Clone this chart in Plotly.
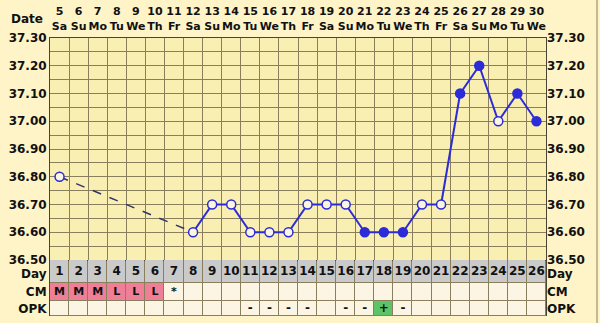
import plotly.graph_objects as go

# ---------------- data ----------------
cycle_days = list(range(1, 27))
dates = list(range(5, 31))
weekdays = ["Sa", "Su", "Mo", "Tu", "We", "Th", "Fr"]
date_labels = [f"{d}<br>{weekdays[i % 7]}" for i, d in enumerate(dates)]

temps = [36.80, None, None, None, None, None, None, 36.60, 36.70, 36.70,
         36.60, 36.60, 36.60, 36.70, 36.70, 36.70, 36.60, 36.60, 36.60, 36.70,
         36.70, 37.10, 37.20, 37.00, 37.10, 37.00]
filled = [False, False, False, False, False, False, False, False, False, False,
          False, False, False, False, False, False, True, True, True, False,
          False, True, True, False, True, True]

cm = ["M", "M", "M", "L", "L", "L", "*"] + [""] * 19
cm_color = [2, 2, 2, 2, 2, 2] + [0] * 20
opk = [""] * 10 + ["-", "-", "-", "-", "", "-", "-", "+", "-"] + [""] * 7
opk_color = [0] * 17 + [3] + [0] * 8

y_ticks = [36.50, 36.60, 36.70, 36.80, 36.90, 37.00, 37.10, 37.20, 37.30]
row_names = ["OPK", "CM", "Day"]

# ---------------- style ----------------
PAPER = "#FEF4C8"
PLOT = "#F9EFB2"
GRID = "#8A7F5C"
FRAME = "#4A4530"
BLUE = "#2B2BD8"
FONT = "DejaVu Sans"
TXT = "#111111"

fig = go.Figure()

# table rows (edges in table-axis units): OPK 0-15, CM 15-33, Day 33-56
row_edges = [0, 15, 33, 56]
row_centers = [7.5, 24, 44.5]
row_label_pos = [7.5, 24, 42]
col_edges = [c - 0.5 for c in cycle_days] + [cycle_days[-1] + 0.5]

z = [opk_color, cm_color, [1] * len(cycle_days)]
colorscale = [[0.0, "#FDF5E4"], [0.25, "#FDF5E4"],
              [0.25, "#CACACA"], [0.5, "#CACACA"],
              [0.5, "#EE7F96"], [0.75, "#EE7F96"],
              [0.75, "#5CC466"], [1.0, "#5CC466"]]
fig.add_trace(go.Heatmap(z=z, x=col_edges, y=row_edges, zmin=0, zmax=3,
                         colorscale=colorscale, showscale=False, xgap=1, ygap=1,
                         hoverinfo="skip", xaxis="x", yaxis="y2"))

# table texts
fig.add_trace(go.Scatter(x=cycle_days, y=[row_centers[2]] * len(cycle_days),
                         mode="text", text=[str(d) for d in cycle_days],
                         textfont=dict(family=FONT, size=12, color=TXT, weight="bold"),
                         xaxis="x", yaxis="y2", hoverinfo="skip", showlegend=False))
fig.add_trace(go.Scatter(x=cycle_days, y=[row_centers[1]] * len(cycle_days),
                         mode="text", text=cm,
                         textfont=dict(family=FONT, size=11, color=TXT, weight="bold"),
                         xaxis="x", yaxis="y2", hoverinfo="skip", showlegend=False))
fig.add_trace(go.Scatter(x=cycle_days, y=[row_centers[0]] * len(cycle_days),
                         mode="text", text=opk,
                         textfont=dict(family=FONT, size=12, color=TXT, weight="bold"),
                         xaxis="x", yaxis="y2", hoverinfo="skip", showlegend=False))

# dashed segment across missing days
valid = [i for i, t in enumerate(temps) if t is not None]
dx, dy = [], []
for a, b in zip(valid[:-1], valid[1:]):
    if b - a > 1:
        dx += [cycle_days[a], cycle_days[b], None]
        dy += [temps[a], temps[b], None]
fig.add_trace(go.Scatter(x=dx, y=dy, mode="lines",
                         line=dict(color="#33336E", width=1.5, dash="dash"),
                         hoverinfo="skip", showlegend=False))

# solid line segments (consecutive days only)
sx, sy = [], []
for a, b in zip(valid[:-1], valid[1:]):
    if b - a == 1:
        sx += [cycle_days[a], cycle_days[b], None]
        sy += [temps[a], temps[b], None]
fig.add_trace(go.Scatter(x=sx, y=sy, mode="lines",
                         line=dict(color=BLUE, width=2),
                         hoverinfo="skip", showlegend=False))

# markers
fig.add_trace(go.Scatter(
    x=[cycle_days[i] for i in valid], y=[temps[i] for i in valid], mode="markers",
    marker=dict(size=9, symbol="circle",
                color=[BLUE if filled[i] else "#FBF6E2" for i in valid],
                line=dict(color=BLUE, width=1.5)),
    showlegend=False))

T_DOM = (316 - 260) / 278

fig.add_annotation(text="Date", x=-0.01, y=(316 - 19) / 278, xref="paper", yref="paper",
                   xanchor="right", yanchor="middle", showarrow=False,
                   font=dict(family=FONT, size=12, color=TXT, weight="bold"))

# frame line at right edge of page
fig.add_shape(type="line", xref="paper", yref="paper",
              x0=(597 - 50) / 496, x1=(597 - 50) / 496, y0=-0.03, y1=1.14,
              line=dict(color=GRID, width=1))

tickfont = dict(family=FONT, size=12, color=TXT, weight="bold")
topfont = dict(family=FONT, size=11, color=TXT, weight="bold")

fig.update_layout(
    width=600, height=323,
    margin=dict(l=50, r=54, t=38, b=7, autoexpand=False),
    paper_bgcolor=PAPER, plot_bgcolor=PLOT,
    showlegend=False,
    xaxis=dict(range=[0.5, 26.5], side="top", anchor="y", automargin=False,
               tickmode="array", tickvals=cycle_days, ticktext=date_labels,
               tickangle=0, tickfont=topfont, ticks="", ticklabelstandoff=3,
               showgrid=False, zeroline=False,
               showline=True, linecolor=FRAME, linewidth=1, mirror=True,
               minor=dict(tickvals=col_edges, showgrid=True, gridcolor=GRID,
                          gridwidth=1, ticks="")),
    yaxis=dict(domain=[T_DOM, 1], range=[36.50, 37.30], tickvals=y_ticks,
               ticktext=[f"{v:.2f}" for v in y_ticks], tickfont=tickfont,
               ticks="", showgrid=True, gridcolor=GRID, gridwidth=1, automargin=False,
               zeroline=False, showline=True, linecolor=FRAME, mirror=True,
               minor=dict(dtick=0.05, showgrid=True, gridcolor=GRID, gridwidth=1)),
    yaxis3=dict(overlaying="y", side="right", range=[36.50, 37.30], automargin=False,
                tickvals=y_ticks, ticktext=[f"{v:.2f}" for v in y_ticks],
                tickfont=tickfont, ticks="", showgrid=False, zeroline=False),
    yaxis2=dict(domain=[0, T_DOM], range=[0, 56], tickvals=row_label_pos,
                ticktext=row_names, tickfont=tickfont, ticks="", automargin=False,
                showgrid=False, zeroline=False, showline=True, linecolor=FRAME,
                mirror=True, anchor="x"),
    yaxis4=dict(overlaying="y2", side="right", range=[0, 56], tickvals=row_label_pos,
                ticktext=row_names, tickfont=tickfont, ticks="", automargin=False,
                showgrid=False, zeroline=False, anchor="x"),
)
# dark background behind table cells (gaps form the grid)
fig.add_shape(type="rect", xref="x domain", yref="y2 domain", x0=0, x1=1, y0=0, y1=1,
              fillcolor=GRID, line=dict(width=0), layer="below")
fig.add_trace(go.Scatter(x=[None], y=[None], yaxis="y3", showlegend=False))
fig.add_trace(go.Scatter(x=[None], y=[None], yaxis="y4", showlegend=False))

fig.write_html("out.html")
